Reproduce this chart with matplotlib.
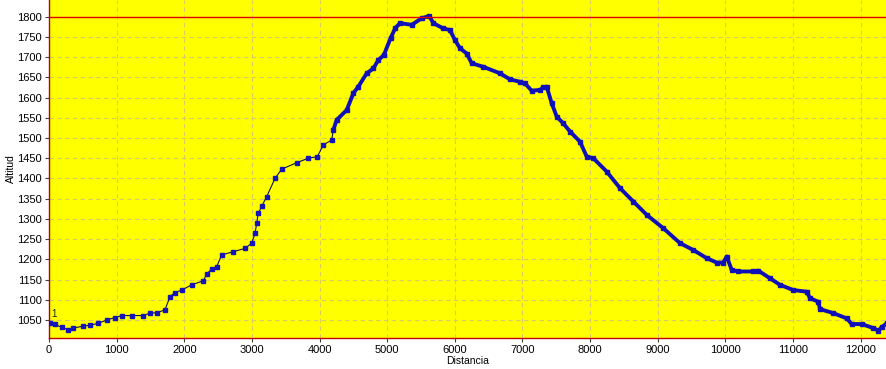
import numpy as np
import matplotlib
matplotlib.use("Agg")
import matplotlib.pyplot as plt

plt.rcParams['font.family'] = ['Liberation Sans', 'DejaVu Sans']

# distance (m) and altitude (m)
dist = [15, 89, 187, 286, 360, 507, 606, 730, 853, 976, 1075, 1222, 1395, 1493,
        1592, 1715, 1789, 1863, 1962, 2110, 2282, 2331, 2405, 2479, 2553, 2725,
        2898, 2997, 3045, 3070, 3094, 3144, 3218, 3341, 3440, 3662, 3834, 3967,
        4056, 4179, 4204, 4253, 4401, 4500, 4573, 4697, 4795, 4869, 4950, 5050,
        5120, 5189, 5362, 5510, 5622, 5682, 5830, 5928, 6002, 6076, 6175, 6249,
        6421, 6668, 6816, 6963, 7037, 7136, 7259, 7308, 7358, 7432, 7506, 7604,
        7703, 7850, 7950, 8048, 8245, 8442, 8639, 8837, 9082, 9329, 9526, 9723,
        9871, 9969, 10019, 10093, 10191, 10413, 10487, 10660, 10807, 11004,
        11202, 11251, 11374, 11399, 11596, 11793, 11867, 12015, 12187, 12261,
        12310, 12385]
alt = [1042, 1039, 1032, 1026, 1030, 1035, 1037, 1042, 1050, 1056, 1061, 1061,
       1061, 1067, 1068, 1075, 1108, 1118, 1124, 1137, 1147, 1164, 1176, 1182,
       1211, 1219, 1227, 1240, 1264, 1289, 1314, 1331, 1355, 1400, 1423, 1439,
       1450, 1454, 1483, 1495, 1520, 1545, 1569, 1611, 1627, 1660, 1672, 1693,
       1705, 1747, 1772, 1784, 1780, 1796, 1802, 1784, 1771, 1767, 1742, 1722,
       1709, 1685, 1676, 1660, 1645, 1639, 1635, 1617, 1619, 1625, 1627, 1586,
       1553, 1536, 1516, 1491, 1454, 1450, 1417, 1376, 1343, 1310, 1277, 1240,
       1223, 1203, 1192, 1192, 1207, 1174, 1170, 1170, 1172, 1153, 1137, 1124,
       1120, 1104, 1095, 1077, 1067, 1054, 1040, 1040, 1030, 1024, 1032, 1042]
max_alt = 1800

dist = np.array(dist)
alt = np.array(alt)

fig = plt.figure(figsize=(8.87, 3.69), dpi=100)
ax = fig.add_axes([49 / 887, 31 / 369, 838 / 887, 338 / 369])
ax.set_facecolor('#ffff00')

ax.grid(True, color='#d8cc60', linestyle=(0, (4, 3)), linewidth=0.8)
ax.set_axisbelow(True)

ax.plot(dist, alt, color='#101040', lw=0.8, marker='s', ms=2.6,
        mfc='#1414b8', mec='#1414b8', zorder=3)
dense = dist >= 4200
ax.plot(dist[dense], alt[dense], color='#1010b8', lw=2.8, zorder=4,
        solid_capstyle='round', solid_joinstyle='round')
ax.axhline(max_alt, color='#e00000', lw=1, zorder=5)
ax.text(30, 1058, '1', fontsize=7, color='#202020')

ax.set_xlim(0, 12389)
ax.set_ylim(1005.5, 1841.3)
ax.set_xticks(np.arange(0, 12001, 1000))
ax.set_yticks(np.arange(1050, 1801, 50))
ax.tick_params(labelsize=8, length=3, color='#404040', pad=2)

for s in ['top', 'right']:
    ax.spines[s].set_visible(False)
for s in ['left', 'bottom']:
    ax.spines[s].set_color('#c00000')
    ax.spines[s].set_linewidth(1)

ax.set_xlabel('Distancia', fontsize=7.5, labelpad=1)
ax.set_ylabel('Altitud', fontsize=7.5, labelpad=1)

fig.savefig('out.png', dpi=100)
